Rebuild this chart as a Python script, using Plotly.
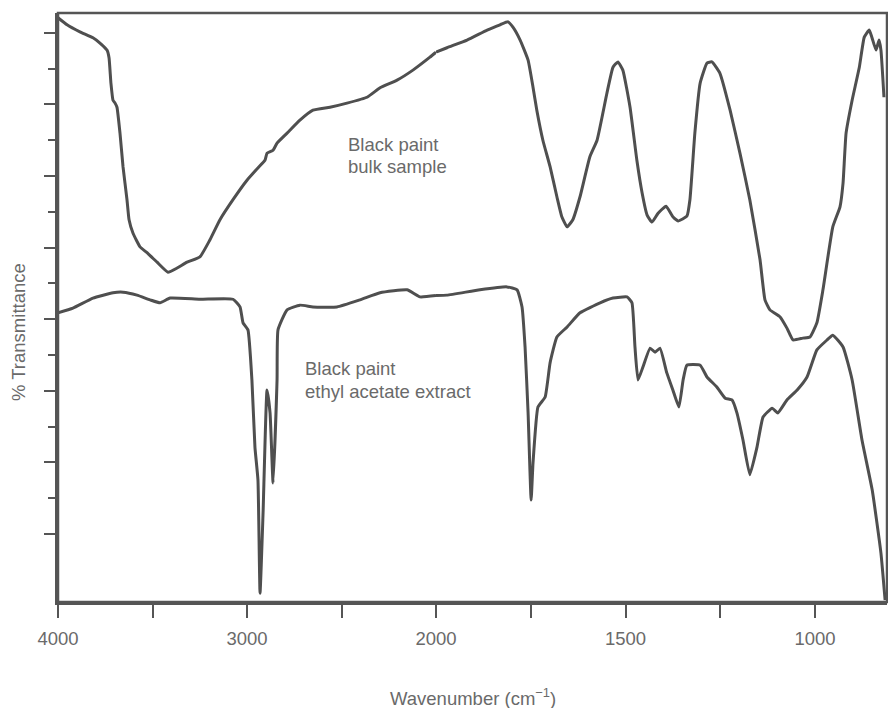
import plotly.graph_objects as go

# Wavenumber (cm-1) and % transmittance
bulk_wn = [4000, 3952, 3884, 3815, 3778, 3741, 3730, 3720, 3709, 3698, 3688, 3672, 3656, 3635, 3624,
           3603, 3566, 3529, 3476, 3418, 3370, 3317, 3249, 3196, 3143, 3074, 3000, 2942, 2905, 2894,
           2862, 2841, 2788, 2720, 2651, 2561, 2471, 2365, 2296, 2206, 2122, 2032, 1971, 1918, 1865,
           1831, 1810, 1797, 1778, 1757, 1744, 1734, 1718, 1699, 1681, 1668, 1654, 1639, 1620, 1594,
           1575, 1549, 1533, 1520, 1507, 1488, 1470, 1456, 1443, 1430, 1414, 1393, 1375, 1361, 1338,
           1330, 1317, 1303, 1285, 1272, 1251, 1224, 1198, 1172, 1145, 1132, 1119, 1092, 1074, 1058,
           1032, 1013, 995, 979, 953, 934, 926, 918, 902, 883, 870, 857, 850, 839, 831, 826, 818]
bulk_t = [99.2, 98.0, 96.8, 95.8, 94.9, 93.7, 92.4, 88.1, 85.2, 84.7, 84.0, 79.6, 73.9, 68.3, 64.9,
          62.6, 60.3, 59.3, 57.7, 56.0, 56.7, 57.7, 58.6, 61.5, 64.9, 68.3, 71.6, 73.7, 75.0, 76.2,
          76.7, 77.9, 79.6, 81.8, 83.5, 84.0, 84.7, 85.7, 87.3, 88.6, 90.3, 92.5, 94.1, 95.4, 97.1,
          98.0, 98.5, 97.6, 95.4, 92.0, 87.4, 83.5, 78.4, 73.9, 68.8, 65.4, 63.7, 64.9, 68.8, 75.6,
          78.4, 86.4, 90.8, 91.7, 90.3, 84.0, 75.0, 69.4, 65.7, 64.5, 66.0, 67.2, 65.4, 64.7, 65.5,
          68.3, 79.6, 88.1, 91.5, 91.7, 89.8, 83.5, 76.2, 68.3, 58.1, 51.3, 49.6, 48.4, 46.5, 44.5,
          44.8, 45.0, 47.4, 53.0, 63.7, 67.1, 71.1, 79.6, 85.2, 90.8, 95.9, 97.1, 95.9, 93.7, 95.4, 93.7, 85.7]

extract_wn = [4000, 3921, 3815, 3709, 3656, 3582, 3513, 3460, 3407, 3249, 3074, 3037, 3021, 2995, 2974,
              2958, 2942, 2931, 2915, 2894, 2878, 2862, 2841, 2836, 2788, 2720, 2651, 2524, 2402, 2296,
              2153, 2085, 1971, 1884, 1813, 1786, 1773, 1765, 1757, 1749, 1744, 1731, 1712, 1699, 1681,
              1654, 1620, 1567, 1533, 1496, 1483, 1475, 1467, 1454, 1435, 1422, 1409, 1391, 1375, 1359,
              1348, 1338, 1303, 1285, 1259, 1237, 1219, 1206, 1190, 1172, 1153, 1137, 1113, 1098, 1074,
              1047, 1021, 995, 968, 953, 926, 902, 876, 849, 826, 815]
extract_t = [49.1, 49.9, 51.6, 52.5, 52.6, 52.1, 51.3, 50.8, 51.6, 51.4, 51.4, 50.1, 47.4, 46.2, 37.7,
             26.3, 20.7, 1.5, 15.1, 36.0, 32.1, 20.2, 37.7, 46.2, 49.6, 50.4, 50.1, 50.1, 51.3, 52.5,
             53.0, 51.8, 52.1, 53.0, 53.5, 53.0, 50.1, 43.3, 32.1, 17.3, 23.6, 33.1, 34.8, 40.6, 45.0,
             46.7, 49.1, 50.8, 51.6, 51.8, 50.8, 43.3, 37.7, 39.9, 43.1, 42.4, 43.1, 38.9, 36.0, 33.1,
             37.7, 40.2, 40.2, 38.2, 36.5, 34.6, 34.3, 32.1, 27.5, 21.6, 26.3, 31.4, 32.9, 32.1, 34.3,
             36.0, 38.2, 42.8, 44.5, 45.3, 43.3, 37.7, 27.5, 19.0, 8.3, 0.3]

# labelled ticks and unlabelled intermediate ticks
high_ticks = [4000, 3000]
high_labels = ["4000", "3000"]
high_minor = [3500, 2500]
low_ticks = [2000, 1500, 1000]
low_labels = ["2000", "1500", "1000"]
low_minor = [1750, 1250]

LINE = "#4f4f4f"
AX = "#555555"
TXT = "#6a6a6a"
FONT = "Liberation Sans, Arial, Helvetica, sans-serif"
SPLIT = 2000
W, H = 888, 708
L, R, T, B = 58, 887, 13, 602
xsplit = (436 - L) / (R - L)

fig = go.Figure()


def add_curve(wn, tv):
    hi = [(w, t) for w, t in zip(wn, tv) if w >= SPLIT]
    lo = [(w, t) for w, t in zip(wn, tv) if w <= SPLIT]
    # connect across the scale change at 2000 cm-1
    i = next(k for k, w in enumerate(wn) if w < SPLIT)
    w0, t0, w1, t1 = wn[i - 1], tv[i - 1], wn[i], tv[i]
    tb = t0 + (t1 - t0) * (w0 - SPLIT) / (w0 - w1)
    hi.append((SPLIT, tb))
    lo.insert(0, (SPLIT, tb))
    style = dict(color=LINE, width=3, shape="spline", smoothing=0.4)
    fig.add_trace(go.Scatter(x=[p[0] for p in hi], y=[p[1] for p in hi], xaxis="x", yaxis="y",
                             mode="lines", line=style, showlegend=False))
    fig.add_trace(go.Scatter(x=[p[0] for p in lo], y=[p[1] for p in lo], xaxis="x2", yaxis="y",
                             mode="lines", line=style, showlegend=False))


add_curve(bulk_wn, bulk_t)
add_curve(extract_wn, extract_t)

tick_font = dict(family=FONT, size=18.5, color=TXT)
xcommon = dict(showline=True, linecolor=AX, linewidth=2.5, ticks="outside", ticklen=13, tickwidth=2,
               tickcolor=AX, showgrid=False, zeroline=False, tickfont=tick_font, ticklabelstandoff=5,
               anchor="y")

# y ticks: alternating long / short
step = 6.077
first = 11.55
major = [first + 2 * step * k for k in range(8)]
minor = [first + step + 2 * step * k for k in range(7)]


def px(xp):
    return (xp - L) / (R - L)


def py(yp):
    return (B - yp) / (B - T)


def label(text, x, y, size=18.5, anchor="left", angle=0):
    return dict(text=text, xref="paper", yref="paper", x=x, y=y, xanchor=anchor, yanchor="middle",
                showarrow=False, textangle=angle, font=dict(family=FONT, size=size, color=TXT))


def xminor(vals):
    return dict(tickmode="array", tickvals=vals, ticks="outside", ticklen=13, tickwidth=2,
                tickcolor=AX, showgrid=False)


fig.update_layout(
    width=W, height=H,
    margin=dict(l=L, r=W - R, t=T, b=H - B),
    plot_bgcolor="white", paper_bgcolor="white",
    xaxis=dict(domain=[0, xsplit], range=[4000, 2000], tickmode="array", tickvals=high_ticks,
               ticktext=high_labels, minor=xminor(high_minor), **xcommon),
    xaxis2=dict(domain=[xsplit, 1], range=[2000, 810], tickmode="array", tickvals=low_ticks,
                ticktext=low_labels, minor=xminor(low_minor), **xcommon),
    yaxis=dict(range=[0, 100], anchor="x", showline=True, linecolor=AX, linewidth=2.5,
               ticks="outside", ticklen=11, tickwidth=2, tickcolor=AX, tickmode="array",
               tickvals=major, showticklabels=False, showgrid=False, zeroline=False,
               minor=dict(tickmode="array", tickvals=minor, ticks="outside", ticklen=7,
                          tickwidth=2, tickcolor=AX, showgrid=False)),
    shapes=[dict(type="rect", xref="paper", yref="paper", x0=0, x1=1, y0=0, y1=1,
                 line=dict(color=AX, width=2.5))],
    annotations=[
        label("Black paint", px(346), py(144)),
        label("bulk sample", px(346), py(166)),
        label("Black paint", px(303), py(369)),
        label("ethyl acetate extract", px(303), py(391)),
        label("Wavenumber (cm<sup>\u22121</sup>)", 0.5, py(697), anchor="center"),
        label("% Transmittance", px(18), py(332), anchor="center", angle=-90),
    ],
)

fig.write_html("out.html", config={"displayModeBar": False},
               post_script="document.body.style.margin='0px';")
